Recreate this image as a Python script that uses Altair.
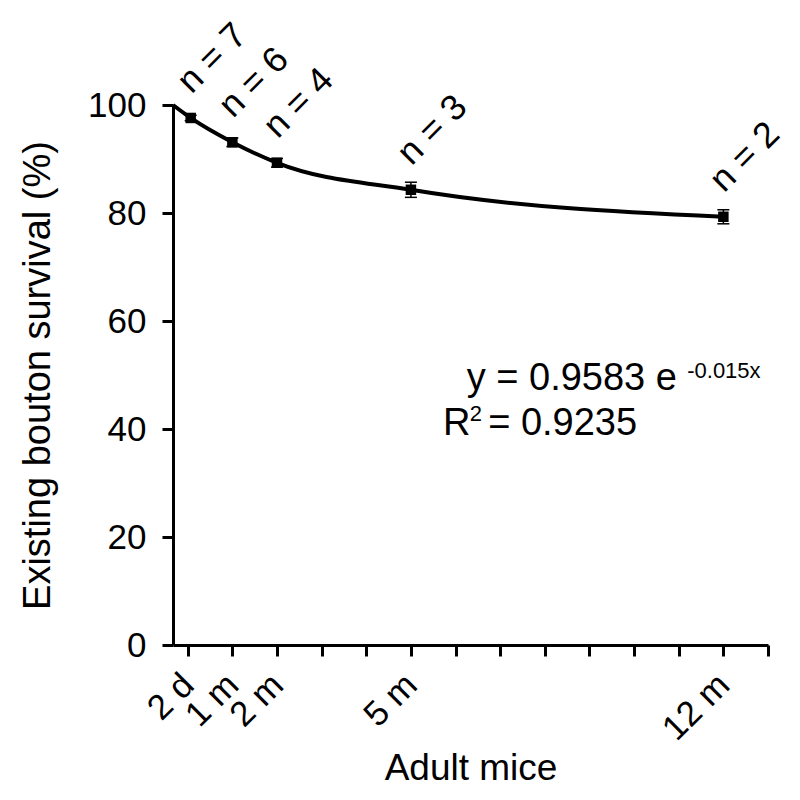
import altair as alt
import pandas as pd

# ---- data ----
months = [0.066, 1, 2, 5, 12]
survival = [97.6, 93.1, 89.3, 84.3, 79.3]
sem = [0.5, 0.8, 0.8, 1.4, 1.3]
n_labels = ["n = 7", "n = 6", "n = 4", "n = 3", "n = 2"]

curve_months = [-0.33] + months
curve_survival = [100] + survival

tick_months = list(range(14))
label_months = [0, 1, 2, 5, 12]
label_texts = ["2 d", "1 m", "2 m", "5 m", "12 m"]

x_domain = [-0.33, 13]
y_domain = [0, 100]
y_ticks = [0, 20, 40, 60, 80, 100]

eq_texts = ["y = 0.9583 e", "-0.015x", "R", "2", "= 0.9235"]
eq_x = [10.96, 11.19, 5.72, 6.32, 6.73]
eq_y = [47.2, 49.4, 38.9, 41.5, 38.9]
eq_size = [38, 22, 38, 22, 38]
eq_align = ["right", "left", "left", "left", "left"]

FONT = "Liberation Sans"

pts = pd.DataFrame({"m": months, "s": survival, "lo": [s - e for s, e in zip(survival, sem)],
                    "hi": [s + e for s, e in zip(survival, sem)], "n": n_labels})
curve = pd.DataFrame({"m": curve_months, "s": curve_survival})
eq = pd.DataFrame({"m": eq_x, "s": eq_y, "t": eq_texts, "size": eq_size, "align": eq_align})

label_expr = ""
for m, t in zip(label_months, label_texts):
    label_expr += f"datum.value == {m} ? '{t}' : "
label_expr += "''"

xscale = alt.Scale(domain=x_domain, nice=False, zero=False)
yscale = alt.Scale(domain=y_domain, nice=False)

x_axis = alt.Axis(values=tick_months, labelExpr=label_expr, title="Adult mice",
                  labelAngle=-45, labelAlign="right", labelBaseline="middle",
                  labelFontSize=35, labelPadding=23, labelOverlap=False, labelFlush=False,
                  labelBound=False, tickSize=11, tickWidth=3, domainWidth=3,
                  domainColor="black", tickColor="black", labelColor="black",
                  titleFontSize=37, titleFontWeight="normal", titlePadding=4,
                  titleColor="black", grid=False, labelFont=FONT, titleFont=FONT)
y_axis = alt.Axis(values=y_ticks, title="Existing bouton survival (%)",
                  labelFontSize=35, labelPadding=16, tickSize=11, tickWidth=3,
                  domainWidth=3, domainColor="black", tickColor="black",
                  labelColor="black", titleFontSize=38, titleFontWeight="normal",
                  titlePadding=30, titleColor="black", grid=False,
                  labelFont=FONT, titleFont=FONT)


def X(field):
    return alt.X(field, scale=xscale, axis=x_axis)


def Y(field):
    return alt.Y(field, scale=yscale, axis=y_axis)


line = alt.Chart(curve).mark_line(color="black", strokeWidth=4, interpolate="monotone").encode(
    x=X("m:Q"), y=Y("s:Q"),
)

bars = alt.Chart(pts).mark_rule(color="black", strokeWidth=1.5).encode(
    x=X("m:Q"), y=Y("lo:Q"), y2="hi:Q",
)
cap_lo = alt.Chart(pts).mark_tick(color="black", orient="horizontal", size=12, thickness=1.5,
                                  opacity=1).encode(x=X("m:Q"), y=Y("lo:Q"))
cap_hi = alt.Chart(pts).mark_tick(color="black", orient="horizontal", size=12, thickness=1.5,
                                  opacity=1).encode(x=X("m:Q"), y=Y("hi:Q"))
squares = alt.Chart(pts).mark_square(color="black", size=110, opacity=1).encode(
    x=X("m:Q"), y=Y("s:Q"),
)
nlab = alt.Chart(pts).mark_text(angle=315, align="left", baseline="middle", dx=17, dy=-27,
                                fontSize=36, font=FONT, color="black").encode(
    x=X("m:Q"), y=Y("s:Q"), text="n:N",
)

eq_layers = []
for i in range(len(eq_texts)):
    eq_layers.append(
        alt.Chart(eq.iloc[[i]]).mark_text(align=eq_align[i], baseline="alphabetic",
                                          fontSize=eq_size[i], font=FONT, color="black").encode(
            x=X("m:Q"), y=Y("s:Q"), text="t:N",
        )
    )

chart = alt.layer(line, bars, cap_lo, cap_hi, squares, nlab, *eq_layers).properties(
    width=595, height=540,
    padding={"left": 165, "top": 97, "right": 20, "bottom": 148},
    autosize=alt.AutoSizeParams(type="none"),
).configure(font=FONT).configure_view(strokeWidth=0)

chart.save("out.html", embed_options={"renderer": "svg", "actions": False})
